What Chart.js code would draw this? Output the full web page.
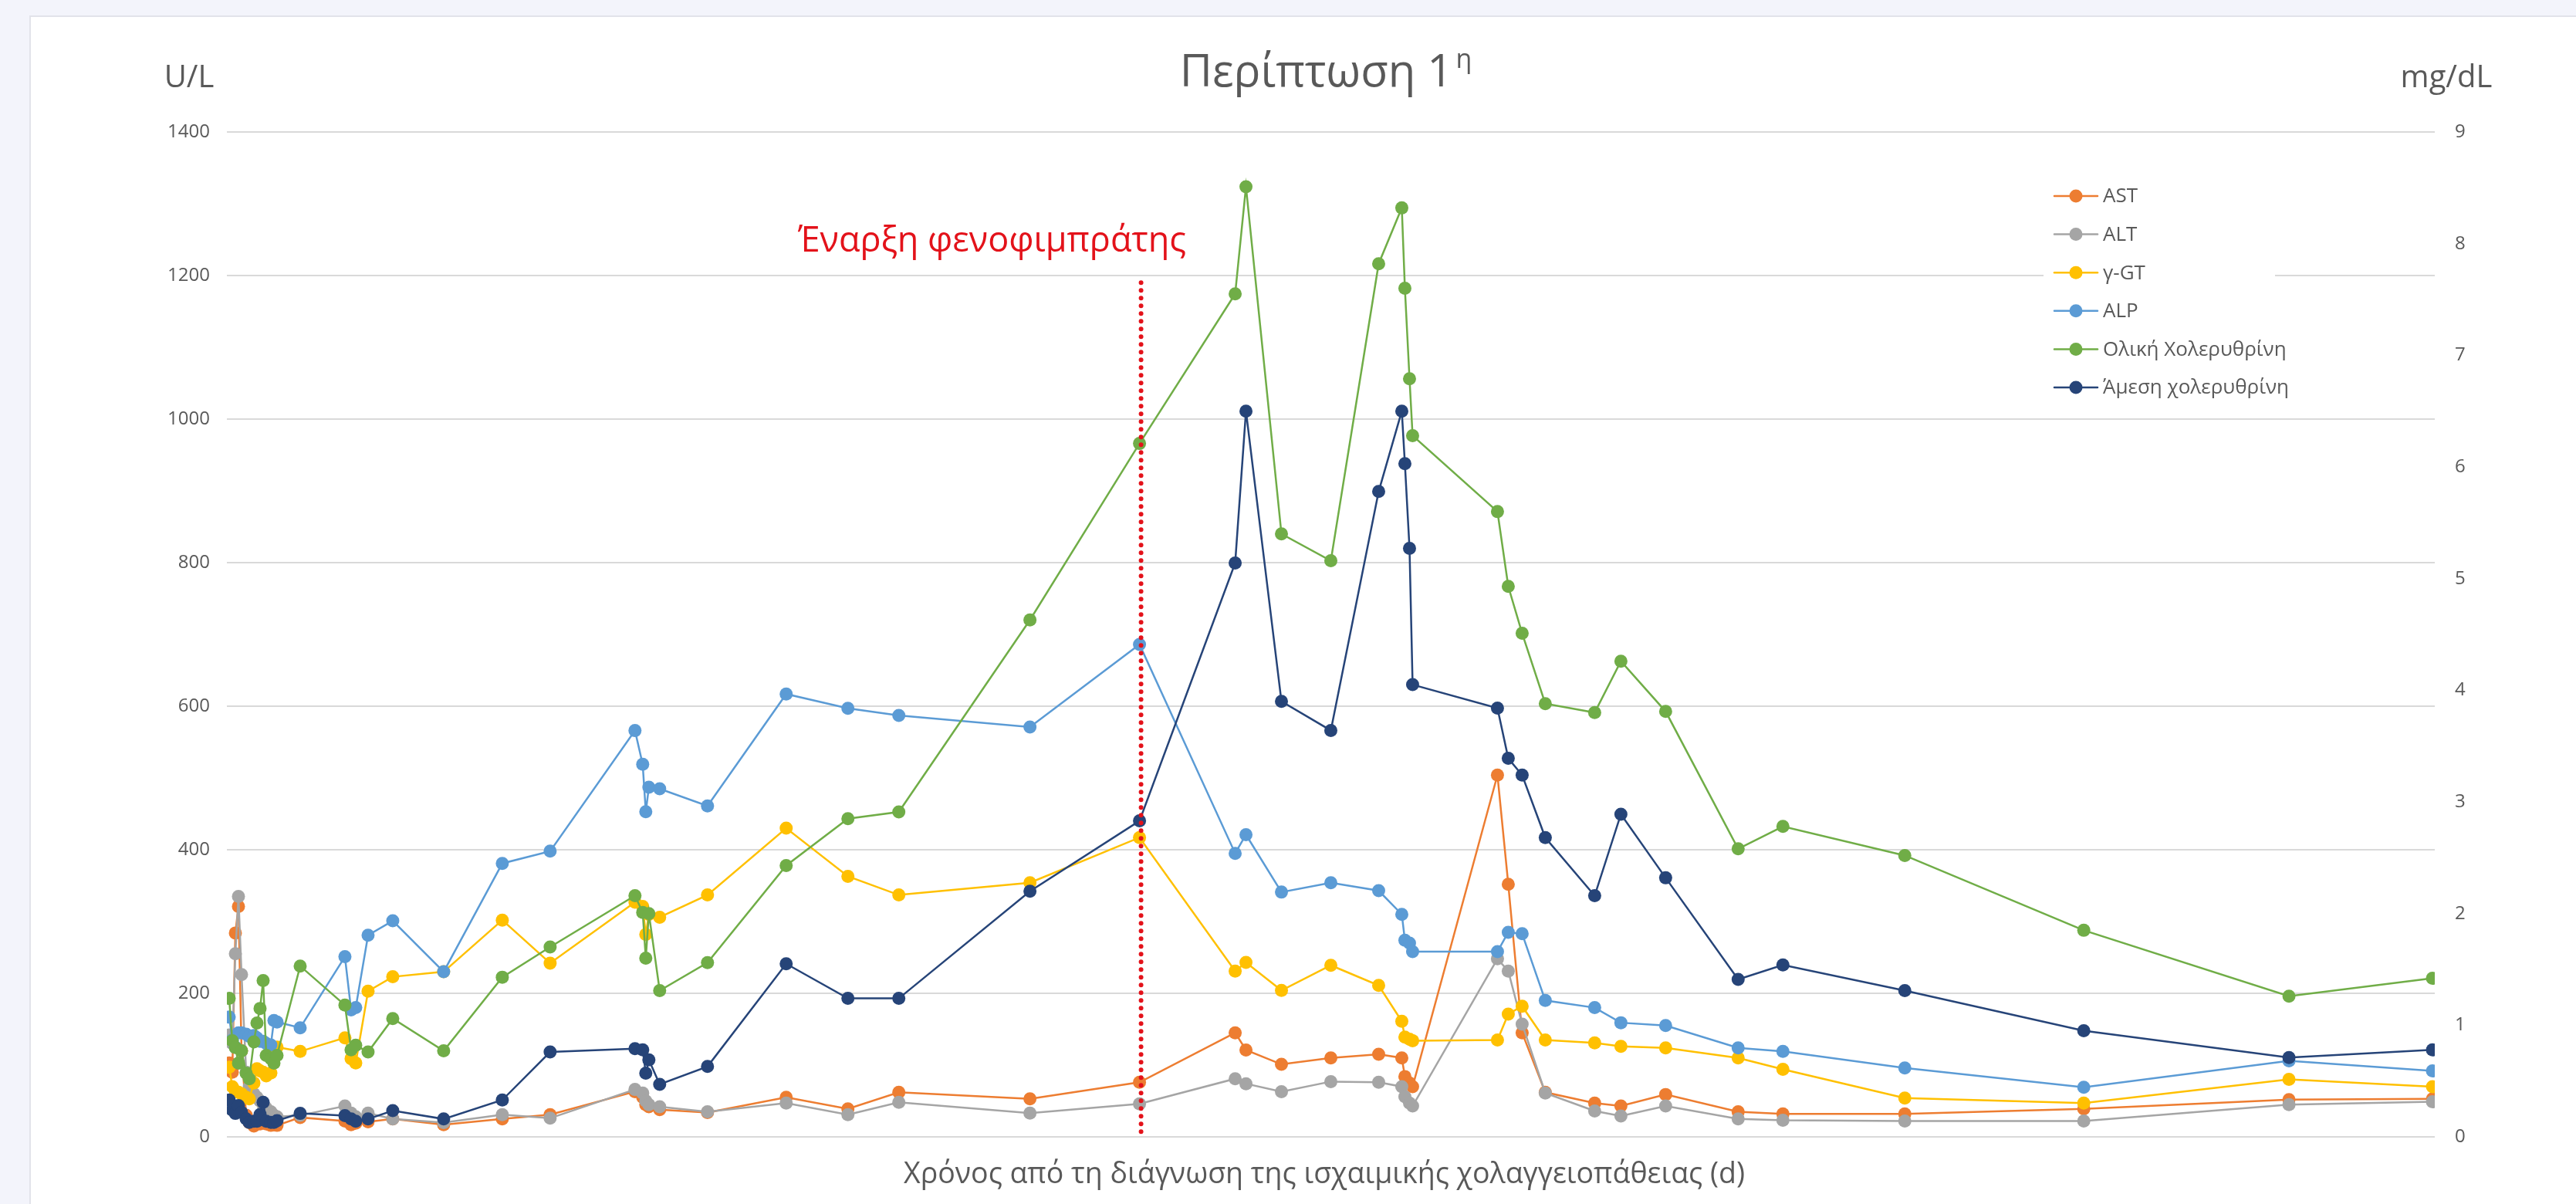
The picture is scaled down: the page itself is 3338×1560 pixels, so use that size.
<!DOCTYPE html>
<html lang="el">
<head>
<meta charset="UTF-8" />
<title>Περίπτωση 1η</title>
<script src="https://cdn.jsdelivr.net/npm/chart.js@4"></script>
<style>
  html, body { margin: 0; padding: 0; }
  body {
    width: 3338px; height: 1560px;
    background: #f3f4fb;
    position: relative; overflow: hidden;
    font-family: "Open Sans", sans-serif;
  }
  .card {
    position: absolute; left: 38px; top: 20px; right: 0; bottom: 0;
    background: #fff;
    border-left: 2px solid #e2e3ea; border-top: 2px solid #e2e3ea;
  }
  .wrap { position: absolute; left: 0; top: 0; width: 3338px; height: 1560px; }
</style>
</head>
<body>
<div class="card"></div>
<div class="wrap"><canvas id="chart"></canvas></div>

<script>
  // days since diagnosis
  const days = [0, 2, 4, 6, 8, 11, 13, 16, 18, 20, 22, 24, 27, 29, 31, 46, 75, 79, 82, 90,
    106, 139, 177, 208, 263, 268, 270, 272, 279, 310, 361, 401, 434, 519, 590,
    652, 659, 682, 714, 745, 760, 762, 765, 767, 822, 829, 838, 853, 885, 902,
    931, 978, 1007, 1086, 1202, 1335, 1428];

  // U/L
  const ast = [103, 90, 284, 321, 120, 30, 20, 15, 18, 18, 20, 18, 16, 17, 16, 27, 22, 17, 19, 21,
    25, 17, 25, 31, 63, 55, 45, 42, 38, 34, 55, 39, 62, 53, 76,
    145, 121, 101, 110, 115, 110, 84, 75, 70, 504, 352, 145, 62, 47, 43,
    59, 35, 32, 32, 39, 52, 53];
  const alt = [142, 130, 255, 335, 226, 90, 70, 60, 55, 50, 45, 40, 35, 30, 28, 30, 43, 33, 28, 33,
    25, 20, 31, 26, 66, 61, 50, 45, 42, 35, 47, 31, 48, 33, 46,
    81, 74, 63, 77, 76, 70, 56, 47, 43, 248, 231, 157, 61, 36, 29,
    43, 25, 23, 22, 22, 45, 49];
  const ggt = [97, 70, 64, 62, 60, 55, 53, 75, 95, 92, 90, 85, 89, 115, 125, 119, 138, 109, 103, 203,
    223, 230, 302, 242, 327, 321, 282, 310, 306, 337, 430, 363, 337, 354, 417,
    231, 243, 204, 239, 211, 161, 139, 136, 134, 135, 171, 182, 135, 131, 126,
    124, 110, 94, 54, 47, 80, 70];
  const alp = [167, 135, 125, 145, 145, 143, 140, 141, 138, 133, 133, 130, 128, 162, 160, 152, 251, 177, 180, 281,
    301, 230, 381, 398, 566, 519, 453, 487, 485, 461, 617, 597, 587, 571, 686,
    395, 421, 341, 354, 343, 310, 274, 270, 258, 258, 285, 283, 190, 180, 159,
    155, 124, 119, 96, 69, 106, 92];
  // mg/dL
  const totalBili = [1.24, 0.86, 0.80, 0.66, 0.77, 0.57, 0.52, 0.85, 1.02, 1.15, 1.40, 0.73, 0.70, 0.66, 0.73, 1.53, 1.18, 0.78, 0.82, 0.76,
    1.06, 0.77, 1.43, 1.70, 2.16, 2.01, 1.60, 2.00, 1.31, 1.56, 2.43, 2.85, 2.91, 4.63, 6.21,
    7.55, 8.51, 5.40, 5.16, 7.82, 8.32, 7.60, 6.79, 6.28, 5.60, 4.93, 4.51, 3.88, 3.80, 4.26,
    3.81, 2.58, 2.78, 2.52, 1.85, 1.26, 1.42];
  const directBili = [0.33, 0.24, 0.21, 0.28, 0.22, 0.16, 0.13, 0.14, 0.14, 0.20, 0.31, 0.14, 0.13, 0.13, 0.145, 0.21, 0.19, 0.16, 0.14, 0.16,
    0.235, 0.16, 0.33, 0.76, 0.79, 0.78, 0.57, 0.69, 0.47, 0.63, 1.55, 1.24, 1.24, 2.20, 2.83,
    5.14, 6.50, 3.90, 3.64, 5.78, 6.50, 6.03, 5.27, 4.05, 3.84, 3.39, 3.24, 2.68, 2.16, 2.89,
    2.32, 1.41, 1.54, 1.31, 0.95, 0.71, 0.78];

  const seriesNames = ['AST', 'ALT', 'γ-GT', 'ALP', 'Ολική Χολερυθρίνη', 'Άμεση χολερυθρίνη'];
  const seriesColors = ['#ed7d31', '#a5a5a5', '#ffc000', '#5b9bd5', '#70ad47', '#264478'];
  const seriesAxis = ['y', 'y', 'y', 'y', 'y2', 'y2'];
  const seriesValues = [ast, alt, ggt, alp, totalBili, directBili];

  const fenofibrateDay = 591;
  const fenofibrateLabel = 'Έναρξη φενοφιμπράτης';

  const FONT = '"Open Sans", sans-serif';
  const GREY_TEXT = '#595959';

  const datasets = seriesValues.map((vals, i) => ({
    label: seriesNames[i],
    data: days.map((d, k) => ({ x: d, y: vals[k] })),
    yAxisID: seriesAxis[i],
    borderColor: seriesColors[i],
    backgroundColor: seriesColors[i],
    pointBackgroundColor: seriesColors[i],
    pointBorderWidth: 0,
    pointRadius: 8.5,
    borderWidth: 2.5,
    tension: 0,
    order: 5 - i
  }));

  const decor = {
    id: 'decor',
    afterDatasetsDraw(chart) {
      const { ctx, scales } = chart;
      ctx.save();
      // fenofibrate start marker
      const fx = scales.x.getPixelForValue(fenofibrateDay);
      ctx.strokeStyle = '#e3121a';
      ctx.lineWidth = 6;
      ctx.lineCap = 'round';
      ctx.setLineDash([0, 10]);
      ctx.beginPath();
      ctx.moveTo(fx, scales.y.getPixelForValue(1190));
      ctx.lineTo(fx, scales.y.getPixelForValue(0));
      ctx.stroke();
      ctx.setLineDash([]);

      ctx.fillStyle = '#e3121a';
      ctx.font = '45px ' + FONT;
      ctx.textAlign = 'right';
      ctx.textBaseline = 'alphabetic';
      ctx.fillText(fenofibrateLabel, 1537, 326);

      // legend box
      ctx.fillStyle = '#fff';
      ctx.fillRect(2648, 222, 300, 300);
      seriesNames.forEach((name, i) => {
        const y = 254 + i * 49.6;
        ctx.strokeStyle = seriesColors[i];
        ctx.lineWidth = 2.5;
        ctx.beginPath();
        ctx.moveTo(2662, y);
        ctx.lineTo(2718, y);
        ctx.stroke();
        ctx.fillStyle = seriesColors[i];
        ctx.beginPath();
        ctx.arc(2690, y, 8.5, 0, Math.PI * 2);
        ctx.fill();
        ctx.fillStyle = GREY_TEXT;
        ctx.font = '26px ' + FONT;
        ctx.textAlign = 'left';
        ctx.textBaseline = 'middle';
        ctx.fillText(name, 2725, y + 1);
      });
      ctx.restore();
    },
    afterDraw(chart) {
      const { ctx } = chart;
      ctx.save();
      ctx.fillStyle = GREY_TEXT;
      ctx.textBaseline = 'alphabetic';

      // title with superscript
      const main = 'Περίπτωση 1', sup = 'η';
      ctx.font = '58px ' + FONT;
      const wMain = ctx.measureText(main).width;
      ctx.font = '34px ' + FONT;
      const wSup = ctx.measureText(sup).width;
      const start = 1718 - (wMain + wSup + 4) / 2;
      ctx.textAlign = 'left';
      ctx.font = '58px ' + FONT;
      ctx.fillText(main, start, 112);
      ctx.font = '34px ' + FONT;
      ctx.fillText(sup, start + wMain + 4, 88);

      // axis units
      ctx.font = '40px ' + FONT;
      ctx.textAlign = 'center';
      ctx.fillText('U/L', 245, 113);
      ctx.fillText('mg/dL', 3170, 113);

      // x axis title
      ctx.font = '37.5px ' + FONT;
      ctx.fillText('Χρόνος από τη διάγνωση της ισχαιμικής χολαγγειοπάθειας (d)', 1716, 1533);
      ctx.restore();
    }
  };

  new Chart(document.getElementById('chart'), {
    type: 'line',
    data: { datasets },
    plugins: [decor],
    options: {
      responsive: true,
      maintainAspectRatio: false,
      devicePixelRatio: 1,
      animation: false,
      layout: { padding: { top: 171, bottom: 87, left: 0, right: 0 } },
      plugins: {
        legend: { display: false },
        title: { display: false },
        tooltip: { enabled: false }
      },
      scales: {
        x: { type: 'linear', min: -1.5, max: 1429.5, display: false },
        y: {
          position: 'left',
          min: 0, max: 1400,
          ticks: {
            stepSize: 200, padding: 22, color: GREY_TEXT,
            font: { family: FONT, size: 24 },
            callback: v => String(v)
          },
          grid: { color: '#d9d9d9', lineWidth: 2, drawTicks: false },
          border: { display: false },
          afterFit(scale) { scale.width = 294; }
        },
        y2: {
          position: 'right',
          min: 0, max: 9,
          ticks: {
            stepSize: 1, padding: 26, color: GREY_TEXT,
            font: { family: FONT, size: 24 },
            callback: v => String(v)
          },
          grid: { drawOnChartArea: false, drawTicks: false },
          border: { display: false },
          afterFit(scale) { scale.width = 183; }
        }
      }
    }
  });
</script>
</body>
</html>
